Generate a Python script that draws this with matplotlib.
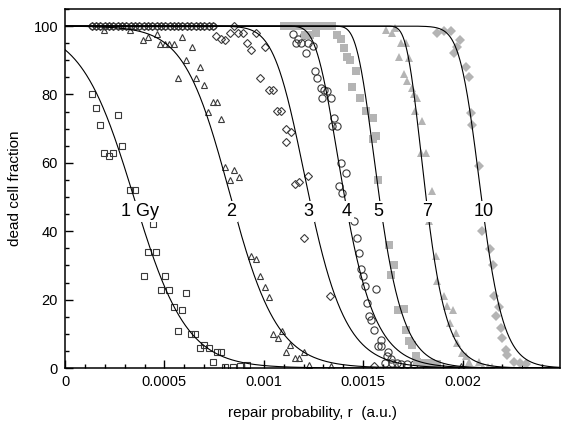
import numpy as np
import matplotlib
matplotlib.use("Agg")
import matplotlib.pyplot as plt
from matplotlib.ticker import MultipleLocator, FixedLocator, FixedFormatter

plt.rcParams['font.family'] = ['Liberation Sans', 'DejaVu Sans']

# repair probability values are listed in units of 1e-4
R_UNIT = 1e-4

# --- measured dead cell fractions (%) ---
r_1gy = [1.34, 1.58, 1.78, 2.65, 2.87, 1.97, 2.21, 2.43, 3.28, 3.54, 4.41, 4.19, 4.59,
         3.95, 5.04, 4.83, 5.24, 6.11, 5.48, 5.89, 5.70, 6.33, 6.54, 6.79, 7.00, 7.22,
         7.42, 7.63, 7.85, 8.04, 8.46, 8.80, 9.18]
f_1gy = [80.0, 75.9, 71.0, 74.1, 64.9, 62.9, 62.1, 62.9, 52.1, 52.1, 42.0, 33.9, 33.9,
         27.0, 27.0, 22.8, 22.8, 21.9, 17.8, 16.9, 10.9, 9.8, 9.8, 5.8, 6.8, 5.8,
         1.8, 4.8, 4.8, 0.3, 0.3, 0.5, 0.8]

r_2gy = [1.97, 3.27, 3.93, 4.19, 4.61, 4.77, 5.02, 5.24, 5.48, 5.91, 6.37, 6.11, 6.79,
         5.70, 6.57, 6.98, 7.42, 7.66, 7.20, 7.87, 8.07, 8.50, 8.29, 8.75, 9.38, 9.60,
         9.80, 10.05, 10.25, 10.47, 10.73, 10.92, 11.30, 11.14, 11.56, 11.77, 12.03, 12.28,
         13.37, 19.91]
f_2gy = [98.8, 99.0, 95.8, 96.8, 97.8, 94.8, 94.8, 94.8, 94.8, 96.8, 93.9, 90.0, 88.0,
         84.9, 84.9, 82.9, 77.9, 77.9, 74.9, 72.9, 58.9, 57.9, 55.0, 56.0, 32.9, 32.0,
         27.0, 23.8, 20.7, 9.8, 8.8, 10.8, 6.7, 4.8, 2.9, 2.9, 4.7, 0.8,
         0.5, 0.5]

# fully killed populations at low repair probability (3 Gy and 4 Gy)
r_top = [1.34, 1.56, 1.78, 1.99, 2.21, 2.43, 2.65, 2.87, 3.08, 3.30, 3.52, 3.74, 3.95,
         4.17, 4.39, 4.61, 4.83, 5.04, 5.26, 5.48, 5.70, 5.91, 6.13, 6.35, 6.57, 6.79,
         7.00, 7.22, 7.44]
f_top = [100.0] * len(r_top)

r_3gy = [8.50, 7.62, 7.84, 8.07, 8.29, 8.71, 8.93, 9.60, 9.18, 9.38, 10.05, 9.80, 10.25,
         10.47, 10.67, 10.89, 11.14, 11.36, 11.14, 11.56, 11.77, 12.20, 12.01, 13.34, 15.55]
f_3gy = [100.0, 97.1, 96.3, 95.9, 98.0, 98.0, 98.0, 98.0, 95.1, 93.0, 94.0, 84.9, 81.3,
         81.3, 75.1, 75.1, 70.0, 69.0, 66.0, 53.7, 54.3, 56.1, 37.9, 21.0, 0.5]

r_4gy = [11.45, 11.70, 12.03, 11.86, 12.20, 12.45, 12.11, 11.61, 12.57, 12.70, 12.86,
         13.04, 13.20, 12.95, 13.37, 13.54, 13.45, 13.67, 13.87, 14.13, 13.79, 13.95,
         14.54, 14.68, 14.79, 14.88, 15.01, 15.08, 15.63, 15.21, 15.30, 15.38, 15.52,
         15.88, 15.75, 15.91, 16.25, 16.18, 16.39, 16.09, 16.47, 16.68, 16.89, 17.22, 17.56]
f_4gy = [97.6, 96.1, 97.3, 95.1, 95.1, 94.1, 92.2, 95.1, 87.0, 84.9, 82.0,
         81.3, 81.0, 79.0, 79.0, 73.2, 70.9, 70.9, 60.0, 57.1, 53.2, 51.2,
         42.9, 38.0, 33.5, 29.0, 27.0, 24.1, 23.1, 19.0, 15.1, 14.1, 11.2,
         8.3, 6.3, 6.3, 4.6, 3.4, 2.6, 1.6, 1.6, 1.4, 1.2, 1.1, 1.1]

r_5gy = [11.03, 11.25, 11.47, 11.69, 11.90, 12.12, 12.34, 12.56, 12.78, 12.99, 13.21, 13.43,
         12.07, 12.34, 12.64, 13.70, 13.87, 14.04, 14.21, 14.34, 14.63, 14.46, 14.84,
         15.13, 15.47, 15.63, 15.47, 15.75, 16.30, 16.55, 16.39, 16.75, 17.06, 17.13,
         17.31, 17.48, 17.64, 17.73, 18.06, 18.39, 18.73]
f_5gy = [100.0, 100.0, 100.0, 100.0, 100.0, 100.0, 100.0, 100.0, 100.0, 100.0, 100.0, 100.0,
         97.3, 97.5, 98.0, 97.4, 96.1, 93.7, 90.9, 90.2, 87.0, 82.1, 79.0,
         75.1, 73.2, 67.8, 67.0, 55.1, 36.1, 30.2, 27.3, 17.1, 17.3, 11.2,
         7.8, 6.8, 3.4, 1.9, 1.5, 1.5, 1.3]

r_7gy = [16.15, 16.47, 16.59, 16.89, 17.14, 16.80, 17.30, 17.06, 17.22, 17.48, 17.56,
         17.73, 17.59, 17.98, 17.93, 18.14, 18.48, 18.31, 18.64, 18.73, 19.07, 19.23,
         19.54, 19.36, 19.66, 19.73, 19.98, 20.16, 20.32, 20.82, 21.05, 21.27, 21.49]
f_7gy = [99.0, 98.0, 99.5, 95.1, 95.1, 91.0, 90.7, 85.9, 83.9, 81.9, 80.0,
         79.0, 75.1, 72.2, 62.9, 62.9, 51.7, 42.9, 32.7, 25.4, 21.0, 18.0,
         17.1, 13.2, 10.2, 7.3, 4.4, 3.4, 1.9, 1.7, 0.3, 0.3, 0.3]

r_10gy = [18.73, 19.07, 19.40, 19.73, 19.88, 19.57, 20.16, 20.32, 20.41, 20.49, 20.82,
          21.00, 21.38, 21.51, 21.58, 21.84, 21.66, 21.91, 22.00, 22.16, 22.25, 22.59,
          22.90, 23.17]
f_10gy = [98.0, 98.5, 98.5, 94.0, 95.9, 92.0, 88.0, 85.1, 74.6, 71.2, 59.0,
          40.0, 34.8, 30.0, 21.0, 17.9, 15.1, 11.7, 8.8, 5.4, 3.9, 1.7,
          1.5, 1.3]

# --- fitted sigmoid curves: centre, width (units of 1e-4) and asymmetry exponent ---
doses = ['1 Gy', '2', '3', '4', '5', '7', '10']
fit_centre = [3.46, 8.03, 10.76, 10.16, 12.73, 15.53, 20.37]
fit_width = [1.33, 1.24, 1.13, 1.04, 0.82, 0.70, 0.65]
fit_shape = [1.0, 1.2, 3.0, 30.0, 30.0, 30.0, 2.0]

# dose label anchors (r in units of 1e-4, fraction at label baseline)
label_r = [3.77, 8.34, 12.23, 14.19, 15.77, 18.22, 21.05]
label_f = [44.4, 44.4, 44.4, 44.4, 44.4, 44.4, 44.4]

X_MAX = 24.9

fig = plt.figure(figsize=(5.67, 4.23), dpi=100)
ax = fig.add_axes([65 / 567, 55 / 423, 495 / 567, 359 / 423])


def scaled(v):
    return np.asarray(v) * R_UNIT


open_kw = dict(linestyle='none', markerfacecolor='none', markeredgecolor='#3a3a3a',
               markeredgewidth=0.8, zorder=2)
gray = '#b4b4b4'
fill_kw = dict(linestyle='none', color=gray, markeredgewidth=0, zorder=2)

ax.plot(scaled(r_top), f_top, marker='D', markersize=4.2, **open_kw)
ax.plot(scaled(r_top), f_top, marker='o', markersize=4.6, **open_kw)
ax.plot(scaled(r_1gy), f_1gy, marker='s', markersize=4.6, **open_kw)
ax.plot(scaled(r_2gy), f_2gy, marker='^', markersize=5.0, **open_kw)
ax.plot(scaled(r_3gy), f_3gy, marker='D', markersize=4.2, **open_kw)
ax.plot(scaled(r_4gy), f_4gy, marker='o', markersize=5.2, **open_kw)
ax.plot(scaled(r_5gy), f_5gy, marker='s', markersize=5.6, **fill_kw)
ax.plot(scaled(r_7gy), f_7gy, marker='^', markersize=6.0, **fill_kw)
ax.plot(scaled(r_10gy), f_10gy, marker='D', markersize=5.0, **fill_kw)

u = np.linspace(0, X_MAX, 1200)
for c, s, m in zip(fit_centre, fit_width, fit_shape):
    g = 1.0 / (1.0 + np.exp(-(u - c) / s))
    ax.plot(u * R_UNIT, 100.0 * (1.0 - g ** m), color='black', lw=0.8, zorder=3)

for text, lr, lf in zip(doses, label_r, label_f):
    ax.text(lr * R_UNIT, lf, text, fontsize=13, ha='center', va='baseline', zorder=5,
            bbox=dict(boxstyle='square,pad=0.12', facecolor='white', edgecolor='none'))

ax.set_xlim(0, X_MAX * R_UNIT)
ax.set_ylim(0, 105)

x_ticks = [0, 0.0005, 0.001, 0.0015, 0.002]
x_tick_labels = ['0', '0.0005', '0.001', '0.0015', '0.002']
ax.xaxis.set_major_locator(FixedLocator(x_ticks))
ax.xaxis.set_major_formatter(FixedFormatter(x_tick_labels))
ax.xaxis.set_minor_locator(MultipleLocator(0.0001))
ax.yaxis.set_major_locator(MultipleLocator(20))
ax.yaxis.set_minor_locator(MultipleLocator(5))

ax.tick_params(which='both', direction='in', top=False, right=False, labelsize=10.5,
               width=1.0, colors='black')
ax.tick_params(which='major', length=6)
ax.tick_params(which='minor', length=3)
ax.tick_params(axis='x', pad=5)
ax.tick_params(axis='y', pad=5)
for sp in ax.spines.values():
    sp.set_linewidth(1.1)

ax.set_xlabel('repair probability, r  (a.u.)', fontsize=11, labelpad=12)
ax.set_ylabel('dead cell fraction', fontsize=11, labelpad=8)

fig.savefig('out.png', dpi=100)
